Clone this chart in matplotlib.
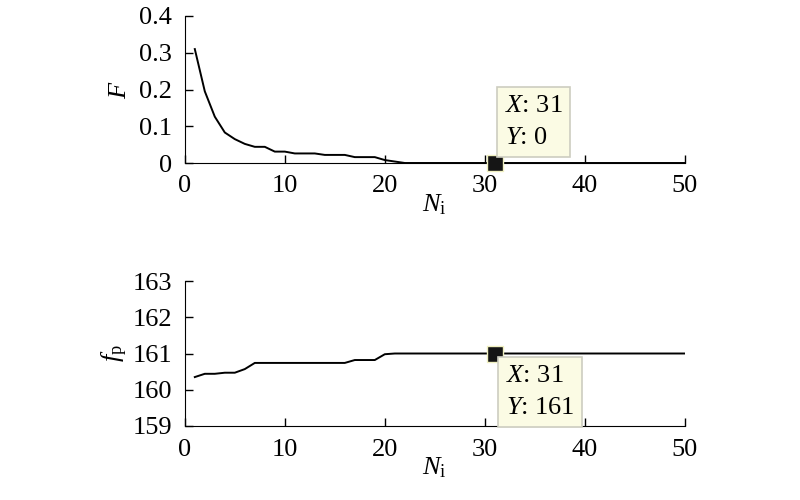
import numpy as np
import matplotlib
matplotlib.use('Agg')
import matplotlib.pyplot as plt

plt.rcParams['font.family'] = ['Liberation Serif', 'DejaVu Serif']
plt.rcParams['mathtext.fontset'] = 'custom'
plt.rcParams['mathtext.rm'] = 'Liberation Serif'
plt.rcParams['mathtext.it'] = 'Liberation Serif:italic'

# iteration number
n_iter = list(range(1, 51))
# fitness F
F_vals = [0.31, 0.195, 0.126, 0.083, 0.065, 0.052, 0.044, 0.044, 0.031, 0.031,
          0.026, 0.026, 0.026, 0.022, 0.022, 0.022, 0.016, 0.016, 0.016, 0.008,
          0.004] + [0.0] * 29
# frequency fp
fp_vals = [160.35, 160.44, 160.44, 160.47, 160.47, 160.57, 160.74, 160.74, 160.74, 160.74,
           160.74, 160.74, 160.74, 160.74, 160.74, 160.74, 160.82, 160.82, 160.82, 160.98,
           161.0] + [161.0] * 29
tip_x = 31
tip_F = 0
tip_fp = 161

fig = plt.figure(figsize=(8, 5), dpi=100)
ax1 = fig.add_axes([0.231, 0.674, 0.625, 0.294])
ax2 = fig.add_axes([0.231, 0.148, 0.625, 0.29])

fs = 19
for ax in (ax1, ax2):
    ax.spines['top'].set_visible(False)
    ax.spines['right'].set_visible(False)
    ax.tick_params(direction='in', labelsize=fs, length=6, width=1, pad=9)
    ax.set_xlim(0, 50)
    ax.set_xticks([0, 10, 20, 30, 40, 50])
    ax.set_xlabel(r'$N_{\mathrm{i}}$', fontsize=fs, labelpad=-4)

ax1.plot(n_iter, F_vals, color='black', lw=1.4)
ax1.set_ylim(0, 0.4)
ax1.set_yticks([0, 0.1, 0.2, 0.3, 0.4])
ax1.set_yticklabels(['0', '0.1', '0.2', '0.3', '0.4'])
ax1.set_ylabel(r'$F$', fontsize=fs, labelpad=6)

ax2.plot(n_iter, fp_vals, color='black', lw=1.4)
ax2.set_ylim(159, 163)
ax2.set_yticks([159, 160, 161, 162, 163])
ax2.set_ylabel(r'$f_{\mathrm{p}}$', fontsize=fs, labelpad=2)

box = dict(boxstyle='square,pad=0.3', fc='#fbfbe4', ec='#cdcdc0', lw=1.2)
for ax, ty, txt, off in [(ax1, tip_F, '$X$: 31\n$Y$: 0', (7, 10)),
                         (ax2, tip_fp, '$X$: 31\n$Y$: 161', (8, -8))]:
    ax.plot([tip_x], [ty], marker='s', ms=11, mfc='#151515', mec='#f0f0c0',
            mew=1, clip_on=False, zorder=5)
    va = 'bottom' if off[1] > 0 else 'top'
    ax.annotate(txt + '  ' if ty == tip_F else txt, xy=(tip_x, ty), xytext=off,
                textcoords='offset points',
                fontsize=fs, va=va, ha='left', bbox=box, linespacing=1.6,
                annotation_clip=False, zorder=6)

fig.savefig('out.png', dpi=100)
